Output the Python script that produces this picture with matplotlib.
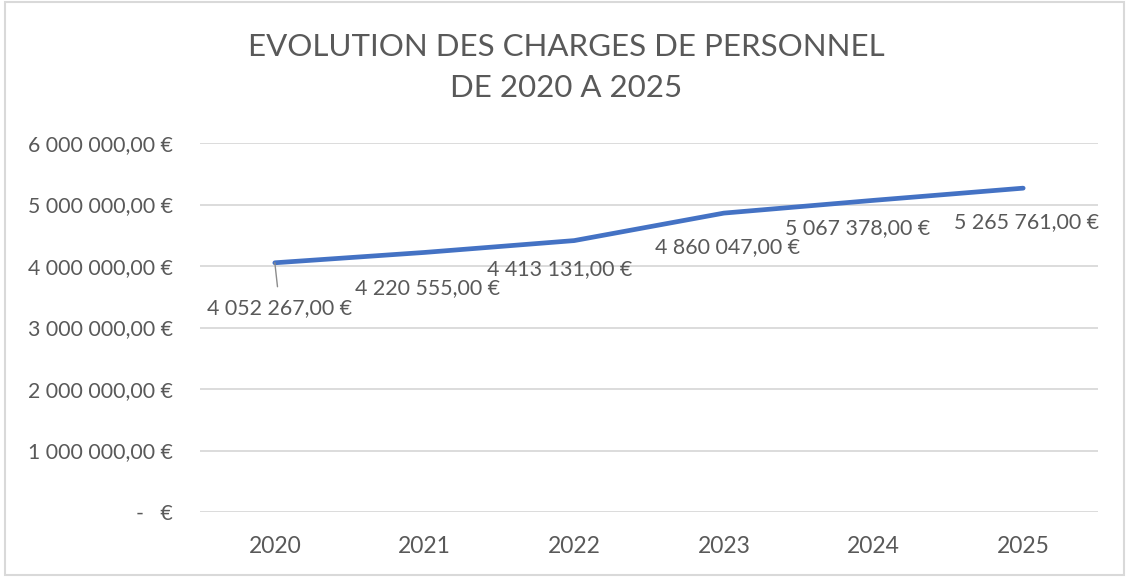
import matplotlib
matplotlib.use("Agg")
import matplotlib.pyplot as plt
from matplotlib.patches import Rectangle

years = ["2020", "2021", "2022", "2023", "2024", "2025"]
charges = [4052267, 4220555, 4413131, 4860047, 5067378, 5265761]
yticks = [0, 1000000, 2000000, 3000000, 4000000, 5000000, 6000000]
# label offsets (pixels) relative to data points
label_dx = [5, 3, -14, 4, -16, 3]
label_dy = [-45, -36, -29, -34, -28, -34]

plt.rcParams['font.family'] = ['Lato', 'DejaVu Sans']
TXT = '#595959'

def fmt(v):
    if v == 0:
        return "-   €"
    s = f"{v:,.2f}".replace(",", " ").replace(".", ",")
    return s + " €"

fig = plt.figure(figsize=(11.29, 5.86), dpi=100)
fig.patches.append(Rectangle((5/1129, 1-575/586), 1119/1129, 573/586, transform=fig.transFigure,
                             fill=False, edgecolor='#d9d9d9', linewidth=1.5))
ax = fig.add_axes([200/1129, (586-512)/586, 898/1129, 369/586])
x = list(range(len(years)))
ax.plot(x, charges, color='#4472C4', linewidth=3.4, solid_capstyle='round', zorder=3)
ax.set_xlim(-0.5, 5.5)
ax.set_ylim(0, 6000000)
ax.set_yticks(yticks)
ax.set_yticklabels([fmt(v) for v in yticks])
ax.set_xticks(x)
ax.set_xticklabels(years)
ax.grid(axis='y', color='#d9d9d9', linewidth=1.3)
ax.set_axisbelow(True)
for s in ax.spines.values():
    s.set_visible(False)
ax.tick_params(axis='y', length=0, colors=TXT, labelsize=15.3, pad=19.5)
ax.tick_params(axis='x', length=0, colors=TXT, labelsize=16.5, pad=17)

for i, v in enumerate(charges):
    kw = {}
    if i == 0:
        kw['arrowprops'] = dict(arrowstyle='-', color='#8c8c8c', lw=1.0, shrinkA=6, shrinkB=0)
    ax.annotate(fmt(v), (i, v), xytext=(label_dx[i], label_dy[i]), textcoords='offset pixels',
                ha='center', va='center', fontsize=15.4, color=TXT, zorder=4, **kw)

fig.text(566/1129, 1-47/586, "EVOLUTION DES CHARGES DE PERSONNEL", ha='center', va='center',
         fontsize=22.5, color=TXT)
fig.text(566/1129, 1-88/586, "DE 2020 A 2025", ha='center', va='center', fontsize=22.5, color=TXT)

fig.savefig("out.png", dpi=100)
